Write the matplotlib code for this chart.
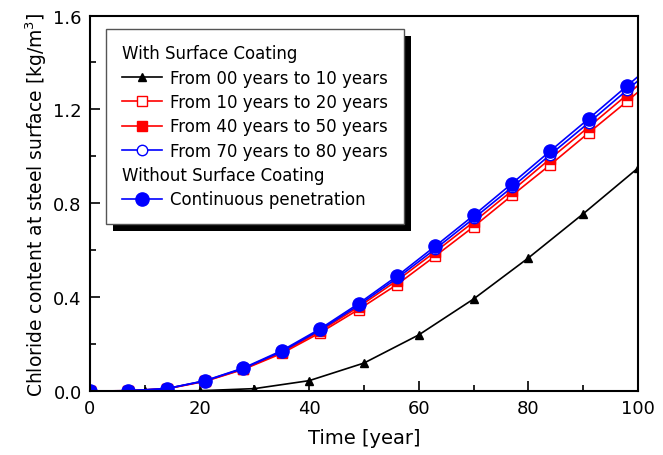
import matplotlib
matplotlib.use("Agg")
import matplotlib.pyplot as plt
from matplotlib.lines import Line2D
from matplotlib.patches import Rectangle

plt.rcParams['font.family'] = ['DejaVu Sans']

# Time axes
t_week = [0, 7, 14, 21, 28, 35, 42, 49, 56, 63, 70, 77, 84, 91, 98, 100]
t_ten = [0, 10, 20, 30, 40, 50, 60, 70, 80, 90, 100]

# Series values [kg/m3]
coat_00_10 = [0, 0, 0.001, 0.010, 0.044, 0.119, 0.239, 0.392, 0.567, 0.755, 0.950]
coat_10_20 = [0, 0.001, 0.009, 0.041, 0.092, 0.160, 0.248, 0.347, 0.453, 0.575, 0.700,
              0.833, 0.964, 1.100, 1.234, 1.274]
coat_40_50 = [0, 0.001, 0.010, 0.042, 0.094, 0.165, 0.255, 0.358, 0.470, 0.593, 0.720,
              0.853, 0.990, 1.125, 1.262, 1.302]
coat_70_80 = [0, 0.001, 0.010, 0.043, 0.096, 0.168, 0.260, 0.365, 0.480, 0.605, 0.735,
              0.868, 1.007, 1.143, 1.282, 1.322]
continuous = [0, 0.001, 0.010, 0.044, 0.098, 0.172, 0.265, 0.372, 0.489, 0.617, 0.748,
              0.884, 1.023, 1.160, 1.300, 1.340]

labels = ["From 00 years to 10 years", "From 10 years to 20 years",
          "From 40 years to 50 years", "From 70 years to 80 years",
          "Continuous penetration"]
headers = ["With Surface Coating", "Without Surface Coating"]

fig = plt.figure(figsize=(6.63, 4.56), dpi=100)
ax = fig.add_axes([0.1357, 0.1404, 0.9623 - 0.1357, 0.9638 - 0.1404])

mk = list(range(len(t_week) - 1))
l0, = ax.plot(t_ten, coat_00_10, color='black', lw=1.2, marker='^', ms=6,
              markerfacecolor='black', markeredgecolor='black')
l1, = ax.plot(t_week, coat_10_20, color='red', lw=1.2, marker='s', ms=7.5,
              markerfacecolor='white', markeredgecolor='red', markevery=mk)
l2, = ax.plot(t_week, coat_40_50, color='red', lw=1.2, marker='s', ms=7.5,
              markerfacecolor='red', markeredgecolor='red', markevery=mk)
l3, = ax.plot(t_week, coat_70_80, color='blue', lw=1.2, marker='o', ms=7.5,
              markerfacecolor='white', markeredgecolor='blue', markevery=mk)
l4, = ax.plot(t_week, continuous, color='blue', lw=1.2, marker='o', ms=9.5,
              markerfacecolor='blue', markeredgecolor='blue', markevery=mk)

ax.set_xlim(0, 100)
ax.set_ylim(0, 1.6)
ax.set_xticks([0, 20, 40, 60, 80, 100])
ax.set_xticks([10, 30, 50, 70, 90], minor=True)
ax.set_yticks([0.0, 0.4, 0.8, 1.2, 1.6])
ax.set_yticks([0.2, 0.6, 1.0, 1.4], minor=True)
ax.set_yticklabels(["0.0", "0.4", "0.8", "1.2", "1.6"])
ax.tick_params(which='both', direction='in', top=False, right=False, labelsize=13, width=1.2)
ax.tick_params(which='major', length=7, pad=6)
ax.tick_params(which='minor', length=4)
for s in ax.spines.values():
    s.set_linewidth(1.5)

ax.set_xlabel("Time [year]", fontsize=14, labelpad=8)
ax.set_ylabel("Chloride content at steel surface [kg/m$^3$]", fontsize=13.5, labelpad=3)

blank = Line2D([], [], linestyle='none', marker=None)
handles = [blank, l0, l1, l2, l3, blank, l4]
labs = [headers[0], labels[0], labels[1], labels[2], labels[3], headers[1], labels[4]]
leg = ax.legend(handles, labs, loc='upper left', bbox_to_anchor=(0.029, 0.965),
                fontsize=12, frameon=True, fancybox=False, shadow=False, framealpha=1,
                handlelength=2.4, handletextpad=0.5, labelspacing=0.38,
                borderpad=0.95, borderaxespad=0)
leg.get_frame().set_edgecolor('#555555')
leg.get_frame().set_linewidth(1.0)
leg.set_zorder(10)

# remove handle space for header rows
rows = leg._legend_handle_box.get_children()[0].get_children()
for idx in (0, 5):
    hp = rows[idx]
    da = hp.get_children()[0]
    da.width = 0
    hp.sep = 0

# shadow
fig.canvas.draw()
bb = leg.get_window_extent()
inv = fig.transFigure.inverted()
(x0, y0), (x1, y1) = inv.transform([[bb.x0, bb.y0], [bb.x1, bb.y1]])
dx, dy = 7 / 663, 7 / 456
fig.patches.append(Rectangle((x0 + dx, y0 - dy), x1 - x0, y1 - y0,
                             transform=fig.transFigure, facecolor='black',
                             edgecolor='none', zorder=5))
ax.set_zorder(6)
ax.patch.set_alpha(0)

fig.savefig("out.png", dpi=100)
